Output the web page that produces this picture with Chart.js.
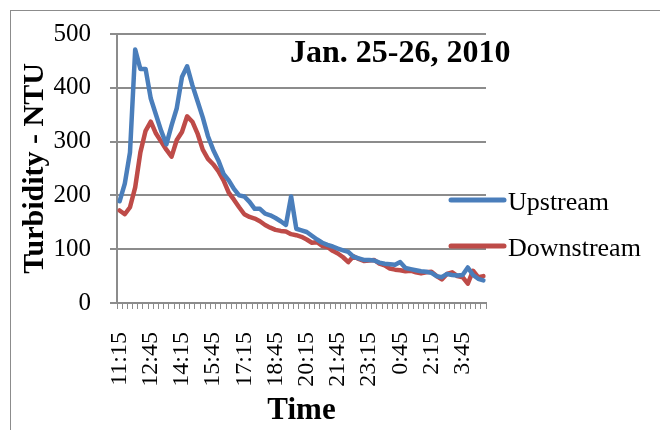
<!DOCTYPE html>
<html>
<head>
<meta charset="utf-8">
<script src="https://cdn.jsdelivr.net/npm/chart.js@4/dist/chart.umd.min.js"></script>
<style>
  html, body { margin: 0; padding: 0; background: #ffffff; }
  #wrap { width: 660px; height: 430px; position: relative; }
</style>
</head>
<body>
<div id="wrap"><canvas id="chart" width="660" height="430"></canvas></div>
<script>
// Sampling times, every 15 minutes
const times = [
  '11:15','11:30','11:45','12:00','12:15','12:30','12:45','13:00','13:15','13:30',
  '13:45','14:00','14:15','14:30','14:45','15:00','15:15','15:30','15:45','16:00',
  '16:15','16:30','16:45','17:00','17:15','17:30','17:45','18:00','18:15','18:30',
  '18:45','19:00','19:15','19:30','19:45','20:00','20:15','20:30','20:45','21:00',
  '21:15','21:30','21:45','22:00','22:15','22:30','22:45','23:00','23:15','23:30',
  '23:45','0:00','0:15','0:30','0:45','1:00','1:15','1:30','1:45','2:00',
  '2:15','2:30','2:45','3:00','3:15','3:30','3:45','4:00','4:15','4:30','4:45'
];

// Turbidity (NTU)
const upstream = [
  189, 222, 280, 471, 435, 435, 380, 350, 320, 295, 330,
  362, 420, 440, 405, 375, 345, 310, 285, 265, 240,
  228, 212, 200, 198, 188, 175, 175, 166, 163, 158,
  152, 145, 198, 138, 135, 132, 125, 118, 112, 108,
  105, 101, 98, 95, 86, 83, 80, 80, 79, 75,
  73, 72, 71, 76, 65, 63, 61, 59, 58, 56,
  50, 48, 54, 52, 51, 52, 66, 52, 45, 42
];
const downstream = [
  172, 165, 178, 215, 280, 320, 337, 315, 300, 285, 272,
  303, 318, 347, 337, 315, 285, 268, 258, 245, 228,
  205, 192, 178, 165, 160, 157, 152, 145, 140, 136,
  134, 133, 128, 126, 123, 118, 112, 113, 106, 104,
  97, 92, 85, 76, 87, 82, 78, 79, 80, 73,
  70, 64, 62, 61, 59, 60, 57, 55, 57, 58,
  50, 44, 54, 57, 50, 48, 36, 60, 48, 50
];

// Every sixth time (1.5 h) carries a label
const labelEvery = 6;
const yTicks = [0, 100, 200, 300, 400, 500];

const seriesNames = ['Upstream', 'Downstream'];
const seriesColors = ['#4A7EBB', '#BE4B48'];
const chartTitle = 'Jan. 25-26, 2010';

const SERIF = '"Liberation Serif", "Times New Roman", serif';
const GRID = '#8C8C8C';

// Frame around the whole chart
const framePlugin = {
  id: 'frame',
  beforeDraw(chart) {
    const ctx = chart.ctx;
    ctx.save();
    ctx.fillStyle = '#ffffff';
    ctx.fillRect(0, 0, chart.width, chart.height);
    ctx.strokeStyle = '#8C8C8C';
    ctx.lineWidth = 1;
    ctx.strokeRect(10.5, 10.5, chart.width + 20, chart.height + 20);
    ctx.restore();
  }
};

// Date caption and series key drawn over the plot
const notesPlugin = {
  id: 'notes',
  afterDraw(chart) {
    const ctx = chart.ctx;
    ctx.save();
    ctx.fillStyle = '#000000';
    ctx.font = 'bold 32px ' + SERIF;
    ctx.textAlign = 'left';
    ctx.textBaseline = 'alphabetic';
    ctx.fillText(chartTitle, 290, 62);

    const rows = [200, 246];
    chart.data.datasets.forEach((ds, i) => {
      const y = rows[i];
      ctx.strokeStyle = ds.borderColor;
      ctx.lineWidth = 5;
      ctx.lineCap = 'round';
      ctx.beginPath();
      ctx.moveTo(451, y);
      ctx.lineTo(504, y);
      ctx.stroke();
      ctx.fillStyle = '#000000';
      ctx.font = '26px ' + SERIF;
      ctx.fillText(ds.label, 508, y + 10);
    });
    ctx.restore();
  }
};

new Chart(document.getElementById('chart'), {
  type: 'line',
  data: {
    labels: times,
    datasets: [
      {
        label: seriesNames[0],
        data: upstream,
        borderColor: seriesColors[0],
        backgroundColor: seriesColors[0],
        borderWidth: 4.5,
        pointRadius: 0,
        tension: 0,
        borderJoinStyle: 'round',
        borderCapStyle: 'round'
      },
      {
        label: seriesNames[1],
        data: downstream,
        borderColor: seriesColors[1],
        backgroundColor: seriesColors[1],
        borderWidth: 4.5,
        pointRadius: 0,
        tension: 0,
        borderJoinStyle: 'round',
        borderCapStyle: 'round'
      }
    ]
  },
  options: {
    responsive: false,
    animation: false,
    devicePixelRatio: 1,
    layout: { padding: { left: 10, right: 174, top: 13, bottom: 0 } },
    plugins: {
      legend: { display: false },
      tooltip: { enabled: false },
      title: { display: false }
    },
    scales: {
      x: {
        type: 'category',
        offset: true,
        grid: {
          offset: true,
          drawOnChartArea: false,
          drawTicks: true,
          tickLength: 6,
          color: GRID,
          lineWidth: 1
        },
        border: { display: true, color: GRID, width: 2 },
        ticks: {
          autoSkip: false,
          minRotation: 90,
          maxRotation: 90,
          padding: 23,
          color: '#000000',
          font: { family: SERIF, size: 24 },
          callback: function (value, index) {
            return index % labelEvery === 0 ? times[index] : '';
          }
        },
        title: {
          display: true,
          text: 'Time',
          color: '#000000',
          font: { family: SERIF, size: 31, weight: 'bold' },
          padding: { top: 0, bottom: 0 }
        },
        afterFit(scale) { scale.height = 127; }
      },
      y: {
        min: 0,
        max: 500,
        afterBuildTicks(scale) { scale.ticks = yTicks.map(v => ({ value: v })); },
        grid: {
          color: GRID,
          lineWidth: 2,
          drawTicks: true,
          tickLength: 7
        },
        border: { display: true, color: GRID, width: 2 },
        ticks: {
          padding: 19,
          color: '#000000',
          font: { family: SERIF, size: 25 }
        },
        title: {
          display: true,
          text: 'Turbidity - NTU',
          color: '#000000',
          font: { family: SERIF, size: 30, weight: 'bold' },
          padding: { top: 7, bottom: 0 }
        },
        afterFit(scale) { scale.width = 107; }
      }
    }
  },
  plugins: [framePlugin, notesPlugin]
});
</script>
</body>
</html>
